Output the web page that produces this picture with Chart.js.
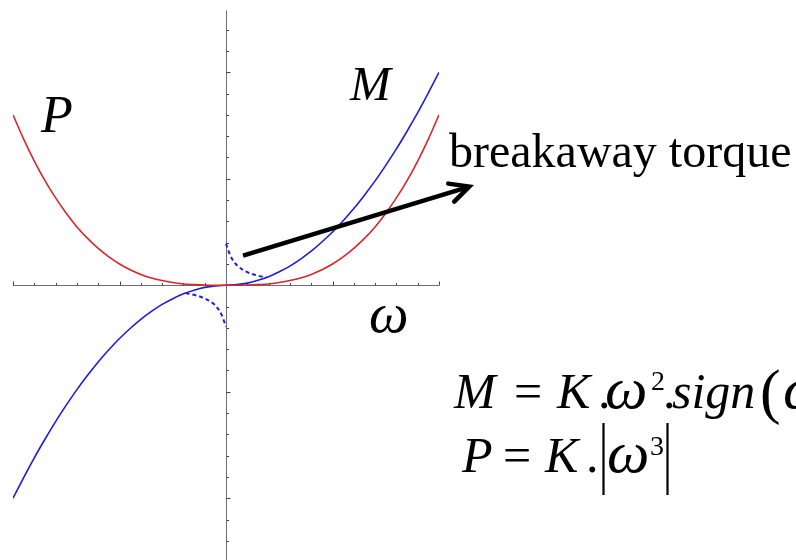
<!DOCTYPE html>
<html>
<head>
<meta charset="utf-8">
<script src="https://cdn.jsdelivr.net/npm/chart.js@4.4.1/dist/chart.umd.min.js"></script>
<style>
  html, body { margin: 0; padding: 0; background: #fff; overflow: hidden; }
  #wrap { width: 796px; height: 560px; position: relative; }
</style>
</head>
<body>
<div id="wrap"><canvas id="c" width="796" height="560"></canvas></div>
<script>
// Angular speed samples (normalised)
const omega = [-1, -0.95, -0.9, -0.85, -0.8, -0.75, -0.7, -0.65, -0.6, -0.55, -0.5,
               -0.45, -0.4, -0.35, -0.3, -0.25, -0.2, -0.15, -0.1, -0.05, 0,
               0.05, 0.1, 0.15, 0.2, 0.25, 0.3, 0.35, 0.4, 0.45, 0.5,
               0.55, 0.6, 0.65, 0.7, 0.75, 0.8, 0.85, 0.9, 0.95, 1];

// Torque M = K·ω²·sign(ω)
const torqueM = [-1, -0.903, -0.81, -0.723, -0.64, -0.563, -0.49, -0.423, -0.36, -0.303, -0.25,
                 -0.203, -0.16, -0.123, -0.09, -0.063, -0.04, -0.023, -0.01, -0.003, 0,
                 0.003, 0.01, 0.023, 0.04, 0.063, 0.09, 0.123, 0.16, 0.203, 0.25,
                 0.303, 0.36, 0.423, 0.49, 0.563, 0.64, 0.723, 0.81, 0.903, 1];

// Power P = K·|ω³|
const powerP = [0.8, 0.686, 0.583, 0.491, 0.41, 0.338, 0.274, 0.22, 0.173, 0.133, 0.1,
                0.073, 0.051, 0.034, 0.022, 0.013, 0.006, 0.003, 0.001, 0.0001, 0,
                0.0001, 0.001, 0.003, 0.006, 0.013, 0.022, 0.034, 0.051, 0.073, 0.1,
                0.133, 0.173, 0.22, 0.274, 0.338, 0.41, 0.491, 0.583, 0.686, 0.8];

// Breakaway torque near standstill (dashed branches)
const breakOmegaPos  = [0, 0.02, 0.05, 0.1, 0.15, 0.19];
const breakTorquePos = [0.195, 0.14, 0.095, 0.062, 0.045, 0.037];
const breakOmegaNeg  = [-0.19, -0.15, -0.1, -0.05, -0.02, 0];
const breakTorqueNeg = [-0.037, -0.045, -0.062, -0.095, -0.14, -0.195];

const pts = (xs, ys) => xs.map((x, i) => ({ x: x, y: ys[i] }));

const RED = '#d8262b';
const BLUE = '#1e1ed8';
const SERIF = "'Liberation Serif', 'Times New Roman', serif";

// Axes crossing at the origin, with small tick marks
const originAxes = {
  id: 'originAxes',
  beforeDatasetsDraw(chart) {
    const { ctx, scales: { x, y } } = chart;
    const x0 = Math.round(x.getPixelForValue(0)) + 0.5;
    const y0 = Math.round(y.getPixelForValue(0)) + 0.5;
    ctx.save();
    ctx.strokeStyle = '#6e6e6e';
    ctx.lineWidth = 1;
    ctx.beginPath();
    ctx.moveTo(x.getPixelForValue(x.min), y0);
    ctx.lineTo(x.getPixelForValue(x.max), y0);
    ctx.moveTo(x0, y.getPixelForValue(y.max));
    ctx.lineTo(x0, y.getPixelForValue(y.min));
    ctx.stroke();
    ctx.strokeStyle = '#444';
    ctx.beginPath();
    for (let i = -10; i <= 10; i++) {
      if (i === 0) continue;
      const px = Math.round(x.getPixelForValue(i / 10)) + 0.5;
      const len = (i % 5 === 0) ? 4 : 2.5;
      ctx.moveTo(px, y0);
      ctx.lineTo(px, y0 - len);
    }
    for (let i = -12; i <= 12; i++) {
      if (i === 0) continue;
      const py = Math.round(y.getPixelForValue(i / 10)) + 0.5;
      const len = (i % 5 === 0) ? 4 : 2.5;
      ctx.moveTo(x0, py);
      ctx.lineTo(x0 + len, py);
    }
    ctx.stroke();
    ctx.restore();
  }
};

// Labels, arrow and formulas
const annotations = {
  id: 'annotations',
  afterDraw(chart) {
    const { ctx, scales: { x, y } } = chart;
    ctx.save();
    ctx.fillStyle = '#000';
    ctx.textBaseline = 'alphabetic';
    ctx.textAlign = 'left';

    ctx.font = 'italic 52px ' + SERIF;
    ctx.fillText('P', 41, 132);
    ctx.font = 'italic 49px ' + SERIF;
    ctx.fillText('M', 350, 100);
    ctx.font = 'italic 56px ' + SERIF;
    ctx.fillText('\u03C9', 369, 332);

    ctx.font = '48px ' + SERIF;
    ctx.fillText('breakaway torque', 449, 167);

    // arrow pointing at the breakaway-torque label
    const ax0 = x.getPixelForValue(0.08), ay0 = y.getPixelForValue(0.139);
    const ax1 = x.getPixelForValue(1.142), ay1 = y.getPixelForValue(0.463);
    ctx.strokeStyle = '#000';
    ctx.lineWidth = 4.5;
    ctx.lineCap = 'butt';
    ctx.lineJoin = 'miter';
    ctx.beginPath();
    ctx.moveTo(ax0, ay0);
    ctx.lineTo(ax1 - 3, ay1 + 1);
    ctx.stroke();
    ctx.lineCap = 'round';
    ctx.beginPath();
    ctx.moveTo(ax1 - 21, ay1 - 3);
    ctx.lineTo(ax1, ay1);
    ctx.lineTo(ax1 - 15, ay1 + 15);
    ctx.stroke();

    // M = K.ω².sign(ω)
    const b1 = 408;
    ctx.font = 'italic 50px ' + SERIF; ctx.fillText('M', 454, b1);
    ctx.font = '50px ' + SERIF;        ctx.fillText('=', 514, b1);
    ctx.font = 'italic 50px ' + SERIF; ctx.fillText('K', 557, b1);
    ctx.font = '50px ' + SERIF;        ctx.fillText('.', 598, b1);
    ctx.font = 'italic 60px ' + SERIF; ctx.fillText('\u03C9', 605, b1);
    ctx.font = '28px ' + SERIF;        ctx.fillText('2', 651, 390);
    ctx.font = '50px ' + SERIF;        ctx.fillText('.', 663, b1);
    ctx.font = 'italic 50px ' + SERIF; ctx.fillText('sign', 672, b1);
    ctx.font = '62px ' + SERIF;        ctx.fillText('(', 760, b1 + 4);
    ctx.font = 'italic 60px ' + SERIF; ctx.fillText('\u03C9', 783, b1);

    // P = K.|ω³|
    const b2 = 472;
    ctx.font = 'italic 50px ' + SERIF; ctx.fillText('P', 462, b2);
    ctx.font = '50px ' + SERIF;        ctx.fillText('=', 503, b2);
    ctx.font = 'italic 50px ' + SERIF; ctx.fillText('K', 545, b2);
    ctx.font = '50px ' + SERIF;        ctx.fillText('.', 586, b2);
    ctx.font = 'italic 60px ' + SERIF; ctx.fillText('\u03C9', 607, b2);
    ctx.font = '28px ' + SERIF;        ctx.fillText('3', 650, 455);
    ctx.lineWidth = 2.2;
    ctx.lineCap = 'butt';
    ctx.beginPath();
    ctx.moveTo(603.5, 423); ctx.lineTo(603.5, 495);
    ctx.moveTo(667.5, 423); ctx.lineTo(667.5, 495);
    ctx.stroke();
    ctx.restore();
  }
};

new Chart(document.getElementById('c'), {
  type: 'line',
  data: {
    datasets: [
      { label: 'P', data: pts(omega, powerP), borderColor: RED, borderWidth: 1.6 },
      { label: 'M', data: pts(omega, torqueM), borderColor: BLUE, borderWidth: 1.6 },
      { label: 'breakaway +', data: pts(breakOmegaPos, breakTorquePos), borderColor: BLUE, borderWidth: 2, borderDash: [4, 3] },
      { label: 'breakaway -', data: pts(breakOmegaNeg, breakTorqueNeg), borderColor: BLUE, borderWidth: 2, borderDash: [4, 3] }
    ]
  },
  options: {
    responsive: false,
    animation: false,
    layout: { padding: { left: 13, right: 357, top: 10.5, bottom: 0 } },
    elements: {
      point: { radius: 0, hoverRadius: 0 },
      line: { cubicInterpolationMode: 'monotone', fill: false }
    },
    scales: {
      x: { type: 'linear', min: -1, max: 1, display: false },
      y: { type: 'linear', min: -1.29, max: 1.29, display: false }
    },
    plugins: { legend: { display: false }, tooltip: { enabled: false } }
  },
  plugins: [originAxes, annotations]
});
</script>
</body>
</html>
